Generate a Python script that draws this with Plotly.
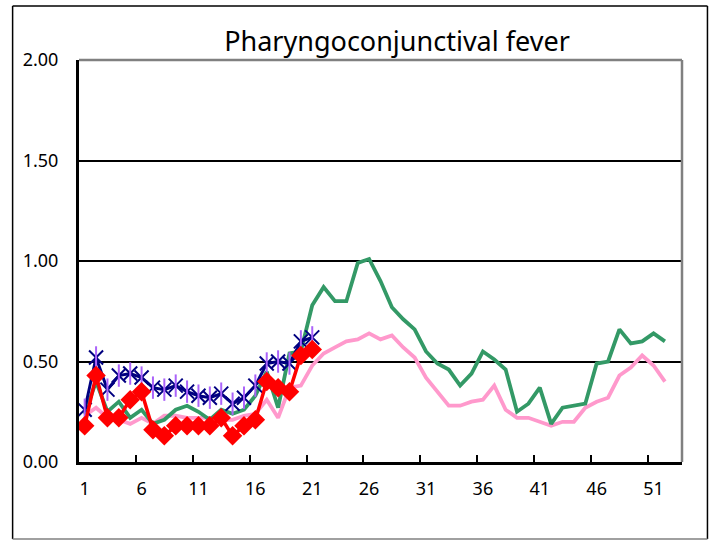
import plotly.graph_objects as go

weeks = list(range(1, 53))
weeks_cur = list(range(1, 22))

# Green series (weeks 1-52)
green_vals = [0.24, 0.40, 0.25, 0.30, 0.22, 0.26, 0.19, 0.21, 0.26, 0.28,
              0.25, 0.21, 0.26, 0.24, 0.26, 0.33, 0.45, 0.27, 0.54, 0.55,
              0.78, 0.87, 0.80, 0.80, 0.99, 1.01, 0.90, 0.77, 0.71, 0.66,
              0.55, 0.49, 0.46, 0.38, 0.44, 0.55, 0.51, 0.46, 0.25, 0.29,
              0.37, 0.19, 0.27, 0.28, 0.29, 0.49, 0.50, 0.66, 0.59, 0.60,
              0.64, 0.60]
# Pink series (weeks 1-52)
pink_vals = [0.23, 0.27, 0.22, 0.21, 0.19, 0.22, 0.19, 0.23, 0.23, 0.22,
             0.22, 0.22, 0.21, 0.21, 0.23, 0.24, 0.31, 0.22, 0.37, 0.38,
             0.48, 0.54, 0.57, 0.60, 0.61, 0.64, 0.61, 0.63, 0.57, 0.52,
             0.42, 0.35, 0.28, 0.28, 0.30, 0.31, 0.38, 0.26, 0.22, 0.22,
             0.20, 0.18, 0.20, 0.20, 0.27, 0.30, 0.32, 0.43, 0.47, 0.53,
             0.48, 0.40]
# Navy asterisk series (weeks 1-21)
blue_vals = [0.26, 0.52, 0.36, 0.43, 0.44, 0.42, 0.37, 0.36, 0.38, 0.35,
             0.33, 0.32, 0.34, 0.29, 0.32, 0.38, 0.49, 0.50, 0.49, 0.60, 0.62]
# Red diamond series (weeks 1-21)
red_vals = [0.18, 0.43, 0.22, 0.22, 0.31, 0.35, 0.16, 0.13, 0.18, 0.18,
            0.18, 0.18, 0.22, 0.13, 0.18, 0.21, 0.40, 0.37, 0.35, 0.53, 0.56]

x_tick_vals = [1, 6, 11, 16, 21, 26, 31, 36, 41, 46, 51]
x_tick_text = ["1", "6", "11", "16", "21", "26", "31", "36", "41", "46", "51"]
x_minor_ticks = [5.5, 10.5, 15.5, 20.5, 25.5, 30.5, 35.5, 40.5, 45.5, 50.5]
y_tick_vals = [0, 0.5, 1.0, 1.5, 2.0]
y_tick_text = ["0.00", "0.50", "1.00", "1.50", "2.00"]

FONT = "Noto Sans"

fig = go.Figure()
fig.add_trace(go.Scatter(x=weeks, y=pink_vals, mode="lines", name="pink",
                         line=dict(color="#FF99CC", width=3.8)))
fig.add_trace(go.Scatter(x=weeks, y=green_vals, mode="lines", name="green",
                         line=dict(color="#339966", width=3.8)))
fig.add_trace(go.Scatter(x=weeks_cur, y=blue_vals, mode="lines+markers", name="navy",
                         line=dict(color="#000080", width=3),
                         marker=dict(symbol="x-thin-open", size=14,
                                     line=dict(color="#000080", width=2))))
fig.add_trace(go.Scatter(x=weeks_cur, y=blue_vals, mode="markers", name="navy2",
                         marker=dict(symbol="line-ns-open", size=16,
                                     line=dict(color="#000080", width=2))))
fig.add_trace(go.Scatter(x=weeks_cur, y=red_vals, mode="lines+markers", name="red",
                         line=dict(color="#FF0000", width=3.5),
                         marker=dict(symbol="diamond", size=15, color="#FF0000")))

fig.update_layout(
    width=718, height=540,
    margin=dict(l=78.5, r=35.5, t=60, b=78, pad=0),
    paper_bgcolor="white", plot_bgcolor="white",
    showlegend=False,
    font=dict(family=FONT, color="black", size=18),
    title=dict(text="Pharyngoconjunctival fever", x=397 / 718, xref="container",
               xanchor="center", y=1 - 42 / 540, yref="container", yanchor="middle",
               font=dict(family=FONT, size=27, color="black")),
    xaxis=dict(range=[0.5, 53.5], tickmode="array", tickvals=x_tick_vals,
               ticktext=x_tick_text, ticks="", showgrid=False, zeroline=False,
               showline=True, linecolor="black", linewidth=3,
               ticklabelstandoff=8,
               tickfont=dict(family=FONT, size=18, color="black"),
               minor=dict(tickmode="array", tickvals=x_minor_ticks, ticks="inside",
                          ticklen=7, tickwidth=2, tickcolor="black", showgrid=False)),
    yaxis=dict(range=[0, 2], tickmode="array", tickvals=y_tick_vals,
               ticktext=y_tick_text, ticks="inside", ticklen=6, tickwidth=2,
               tickcolor="black", showgrid=True, gridcolor="black", gridwidth=1.5,
               zeroline=False, showline=True, linecolor="black", linewidth=3,
               ticklabelstandoff=14,
               tickfont=dict(family=FONT, size=18, color="black")),
)

# plot area top/right gray border
fig.add_shape(type="line", xref="paper", yref="paper", x0=0, x1=1, y0=1, y1=1,
              line=dict(color="#808080", width=2.5))
fig.add_shape(type="line", xref="paper", yref="paper", x0=1, x1=1, y0=0, y1=1,
              line=dict(color="#808080", width=2.5))
# outer chart frame
fx0, fx1 = (12 - 78.5) / 604, (708 - 78.5) / 604
fy0, fy1 = (462 - 539) / 402, (462 - 6) / 402
fig.add_shape(type="line", xref="paper", yref="paper", x0=fx0, x1=fx1, y0=fy1, y1=fy1,
              line=dict(color="black", width=1.5))
fig.add_shape(type="line", xref="paper", yref="paper", x0=fx0, x1=fx0, y0=fy0, y1=fy1,
              line=dict(color="black", width=1.5))
fig.add_shape(type="line", xref="paper", yref="paper", x0=fx1, x1=fx1, y0=fy0, y1=fy1,
              line=dict(color="black", width=1.5))
fig.add_shape(type="line", xref="paper", yref="paper", x0=fx0, x1=fx1, y0=fy0, y1=fy0,
              line=dict(color="#808080", width=1.5))

fig.write_html("out.html", config={"displayModeBar": False},
               post_script="document.body.style.margin='0';")
